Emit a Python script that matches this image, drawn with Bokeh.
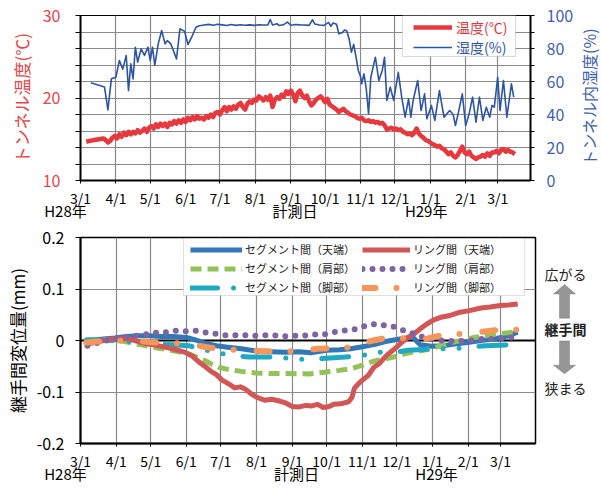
import math
from bokeh.plotting import figure
from bokeh.models import (Range1d, LinearAxis, FixedTicker, Legend, LegendItem, Label,
                          BoxAnnotation, PolyAnnotation, Span)
from bokeh.layouts import column, row
from bokeh.embed import file_html
from bokeh.resources import INLINE

JP = "Noto Sans CJK JP"

# ---------------- data ----------------
month_days = [0, 31, 61, 92, 122, 153, 184, 214, 245, 275, 306, 337, 365]
month_labels = ["3/1", "4/1", "5/1", "6/1", "7/1", "8/1", "9/1", "10/1", "11/1", "12/1", "1/1", "2/1", "3/1"]

temp_days = [5, 8, 12, 16, 20] + list(range(22, 381, 2))
temp_vals = [14.7, 14.8, 14.9, 15.0, 15.1,
             14.9, 14.6, 14.8, 15.2, 15.4, 15.1, 15.6, 15.3, 15.8, 15.5,
             15.9, 15.6, 15.9, 15.7, 16.1, 15.8, 16.0, 16.3, 15.9, 16.4,
             16.6, 16.3, 16.8, 16.5, 16.9, 16.6, 16.9, 16.5, 17.0, 16.8,
             17.2, 16.9, 17.3, 17.0, 17.4, 17.1, 17.6, 17.3, 17.7, 17.4,
             17.8, 17.5, 17.6, 17.4, 17.8, 17.6, 18.0, 17.7, 18.2, 18.3,
             18.0, 18.5, 18.9, 18.4, 18.9, 18.6, 19.0, 18.7, 19.2, 19.4,
             18.9, 18.6, 19.3, 19.6, 19.4, 19.8, 19.7, 20.2, 20.0, 19.7,
             20.1, 19.8, 20.3, 18.9, 19.8, 20.1, 19.9, 20.4, 20.2, 20.8,
             20.5, 20.9, 20.4, 19.6, 20.6, 20.9, 20.3, 20.0, 20.3, 19.6,
             19.1, 19.4, 19.8, 20.0, 20.2, 19.9, 19.5, 19.9, 19.2, 19.0,
             18.8, 18.6, 18.3, 18.5, 18.7, 18.4, 18.2, 18.0, 17.9, 17.8,
             17.6, 17.5, 17.6, 17.3, 17.2, 17.3, 17.1, 17.2, 17.0, 17.1,
             16.9, 17.0, 16.7, 16.2, 16.3, 16.4, 16.2, 16.3, 16.1, 16.2,
             15.9, 15.8, 15.6, 15.7, 15.5, 15.8, 16.3, 15.7, 15.4, 15.2,
             14.9, 14.8, 14.6, 14.4, 14.3, 14.1, 14.2, 13.9, 13.8, 13.5,
             13.2, 13.4, 13.0, 12.8, 13.1, 13.6, 14.1, 13.4, 13.2, 13.5,
             13.0, 12.8, 12.6, 12.8, 12.9, 13.1, 12.9, 13.3, 13.0, 13.4,
             13.4, 13.6, 13.3, 13.7, 13.8, 13.5, 13.7, 13.5, 13.4, 13.2]

hum_days = [9, 21, 24, 27, 31, 34, 37, 40, 42, 44,
            46, 48, 50, 53, 56, 59, 61, 63, 65, 68,
            71, 74, 76, 79, 84, 87, 91, 94, 98, 101,
            104, 108, 112, 116, 120, 124, 128, 132, 136, 140,
            144, 148, 152, 156, 160, 164, 166, 168, 172, 174,
            178, 181, 184, 188, 192, 196, 200, 203, 205, 209,
            213, 217, 219, 221, 224, 226, 229, 231, 233, 235,
            237, 239, 241, 243, 245, 246, 248, 250, 252, 254,
            256, 258, 261, 264, 266, 268, 271, 274, 278, 281,
            284, 287, 289, 291, 295, 298, 301, 303, 307, 310,
            314, 318, 323, 326, 328, 331, 334, 337, 340, 343,
            346, 349, 352, 355, 358, 360, 362, 365, 367, 370,
            373, 377, 379]
hum_vals = [59.2, 56.6, 42.8, 61.6, 62.6, 72.7, 67.5, 75.8, 54.5, 70.7,
            61.6, 80.8, 71.7, 79.8, 75.8, 80.8, 72.7, 80.8, 69.7, 82.8,
            90.9, 82.8, 84.8, 82.8, 73.7, 91.9, 90.5, 82.4, 88.0, 92.9,
            93.8, 94.2, 94.6, 94.1, 94.7, 94.3, 93.9, 94.5, 94.0, 94.4,
            94.1, 94.3, 94.0, 94.4, 94.2, 94.3, 97.6, 94.2, 95.0, 93.9,
            94.6, 96.0, 94.1, 94.5, 94.3, 94.2, 94.0, 97.4, 94.8, 94.2,
            94.0, 95.8, 93.5, 95.5, 94.7, 88.9, 89.5, 91.2, 90.6, 85.8,
            77.8, 82.5, 75.0, 66.7, 63.0, 58.6, 64.6, 55.6, 40.4, 62.6,
            68.7, 74.7, 60.6, 66.7, 74.7, 48.5, 56.6, 48.5, 65.6, 50.5,
            38.4, 49.5, 38.4, 48.5, 60.6, 42.4, 52.5, 37.4, 45.5, 36.4,
            54.5, 38.4, 42.4, 40.0, 33.3, 42.4, 52.5, 33.3, 40.4, 50.5,
            35.4, 50.5, 36.4, 44.4, 38.4, 45.5, 44.4, 62.6, 42.4, 60.6,
            38.4, 58.6, 50.5]

seg_top_days = [5, 12, 20, 30, 40, 50, 60, 70, 80, 92, 100, 108, 118, 128, 140, 154, 165, 178, 190,
                200, 214, 225, 235, 245, 255, 265, 275, 283, 289, 295, 305, 315, 325, 336, 348, 359, 370, 380]
seg_top_vals = [0.000, 0.001, 0.003, 0.005, 0.008, 0.009, 0.009, 0.008, 0.008, 0.006, 0.001, -0.005,
                -0.010, -0.013, -0.016, -0.021, -0.022, -0.023, -0.022, -0.024, -0.019, -0.018, -0.016,
                -0.012, -0.008, -0.002, 0.002, 0.005, 0.006, -0.008, -0.011, -0.010, -0.007, -0.004,
                0.000, 0.003, 0.008, 0.016]

seg_sh_days = [5, 15, 30, 45, 56, 68, 79, 94, 101, 108, 114, 120, 128, 140, 152, 165, 180, 198, 214,
               225, 235, 245, 255, 265, 272, 280, 288, 298, 307, 316, 324, 333, 342, 352, 362, 372, 380]
seg_sh_vals = [0.001, 0.002, 0.001, -0.005, -0.010, -0.015, -0.019, -0.026, -0.032, -0.039, -0.046,
               -0.052, -0.056, -0.060, -0.063, -0.064, -0.064, -0.065, -0.061, -0.058, -0.055, -0.048,
               -0.040, -0.036, -0.032, -0.027, -0.023, -0.019, -0.014, -0.009, -0.003, 0.001, 0.006,
               0.009, 0.013, 0.015, 0.017]

seg_ft_days = [5, 15, 30, 50, 76, 94, 118, 133, 146, 170, 184, 197, 210, 230, 245, 259, 272, 285,
               310, 324, 337, 352, 378]
seg_ft_vals = [0.001, 0.001, 0.000, -0.003, -0.008, -0.010, -0.024, -0.029, -0.032, -0.032, -0.035,
               -0.037, -0.035, -0.032, -0.029, -0.023, -0.023, -0.019, -0.016, -0.016, -0.013,
               -0.010, -0.008]

ring_top_days = [5, 10, 20, 30, 42, 56, 65, 74, 83, 91, 97, 103, 108, 114, 118, 123, 128, 134, 139,
                 143, 148, 153, 160, 166, 172, 178, 184, 190, 196, 201, 206, 211, 216, 220, 226, 233,
                 236, 238, 241, 245, 250, 255, 260, 266, 272, 278, 284, 290, 296, 301, 307, 313, 320,
                 330, 338, 348, 356, 365, 372, 380]
ring_top_vals = [-0.008, -0.005, 0.000, 0.004, 0.003, -0.006, -0.009, -0.013, -0.018, -0.023, -0.030,
                 -0.042, -0.050, -0.061, -0.066, -0.077, -0.083, -0.092, -0.090, -0.094, -0.103,
                 -0.110, -0.116, -0.114, -0.117, -0.121, -0.128, -0.129, -0.126, -0.127, -0.124,
                 -0.130, -0.128, -0.124, -0.123, -0.119, -0.110, -0.093, -0.085, -0.077, -0.068,
                 -0.052, -0.044, -0.029, -0.018, -0.006, 0.005, 0.013, 0.024, 0.032, 0.040, 0.045,
                 0.048, 0.055, 0.058, 0.063, 0.065, 0.068, 0.069, 0.071]

ring_sh_days = [6, 18, 27, 36, 45, 53, 63, 72, 81, 90, 100, 108, 117, 126, 134, 143, 152, 160, 169,
                177, 186, 193, 201, 210, 220, 229, 239, 248, 256, 265, 274, 281, 290, 298, 306, 314,
                323, 332, 340, 349, 358, 366, 375]
ring_sh_vals = [-0.010, -0.003, 0.003, 0.006, 0.009, 0.010, 0.015, 0.015, 0.019, 0.018, 0.019, 0.016,
                0.013, 0.010, 0.010, 0.010, 0.009, 0.010, 0.010, 0.008, 0.009, 0.009, 0.012, 0.011,
                0.016, 0.019, 0.022, 0.029, 0.032, 0.029, 0.026, 0.019, 0.013, 0.006, 0.003, 0.000,
                -0.001, -0.001, 0.000, 0.003, 0.003, 0.004, 0.006]

ring_ft_days = [5, 15, 30, 42, 60, 75, 93, 110, 124, 142, 159, 172, 188, 206, 220, 235, 252, 268, 284,
                300, 317, 332, 349, 364, 380]
ring_ft_vals = [-0.004, -0.002, -0.001, 0.001, -0.003, -0.005, -0.006, -0.013, -0.017, -0.019, -0.021,
                -0.021, -0.021, -0.016, -0.015, -0.013, -0.001, 0.006, 0.004, 0.003, 0.012, 0.013,
                0.017, 0.021, 0.021]

RED = "#E8383D"
BLUE = "#2E54A6"
AX_RED = "#E8454A"
AX_BLUE = "#3D62AE"
GRID = "#8A8A8A"

DAY_PX = 420.0 / 365.0          # pixels per day on both charts
FRAME_L = 80                     # page x of frame left


def style_axis(ax, size, color, standoff, tick_out):
    ax.major_label_text_font = JP
    ax.major_label_text_font_size = size
    ax.major_label_text_color = color
    ax.major_label_standoff = standoff
    ax.major_tick_in = 0
    ax.major_tick_out = tick_out
    ax.minor_tick_in = 0
    ax.minor_tick_out = 0
    ax.axis_line_width = 2
    ax.axis_line_color = "black"


def text_axis(p, ticks, labels):
    ax = LinearAxis(ticker=FixedTicker(ticks=ticks),
                    major_label_overrides={t: l for t, l in zip(ticks, labels)})
    style_axis(ax, "15px", "black", -11, 0)
    ax.axis_line_alpha = 0
    ax.major_tick_line_alpha = 0
    p.add_layout(ax, "below")


def tx(px):
    return round((px - FRAME_L) / DAY_PX, 1)


def blank_panel(w, h, xr, yr):
    q = figure(width=w, height=h, x_range=xr, y_range=yr, x_axis_type=None, y_axis_type=None,
               output_backend="svg", toolbar_location=None,
               min_border_left=0, min_border_right=0, min_border_top=0, min_border_bottom=0)
    q.outline_line_color = None
    q.background_fill_color = "white"
    q.border_fill_color = "white"
    return q


# ---------------- top chart ----------------
T_TOP, T_BOT = 15, 180
p1 = figure(width=576, height=225, x_range=Range1d(0, 453 / DAY_PX), y_range=Range1d(10, 30),
            output_backend="svg", toolbar_location=None,
            min_border_left=80, min_border_right=43, min_border_top=15, min_border_bottom=45)
p1.extra_y_ranges = {"hum": Range1d(0, 100)}
p1.outline_line_color = "black"
p1.outline_line_width = 1
p1.background_fill_color = "white"
p1.border_fill_color = "white"


def ty(py):
    return 10 + (T_BOT - py) * 20.0 / (T_BOT - T_TOP)


p1.xgrid.ticker = FixedTicker(ticks=month_days)
p1.ygrid.ticker = FixedTicker(ticks=list(range(10, 31, 2)))
for g in (p1.xgrid[0], p1.ygrid[0]):
    g.grid_line_color = GRID
    g.grid_line_width = 1.2

xa = p1.xaxis[0]
xa.ticker = FixedTicker(ticks=month_days)
xa.major_label_overrides = {d: l for d, l in zip(month_days, month_labels)}
style_axis(xa, "14px", "black", 4, 3)

ya = p1.yaxis[0]
ya.ticker = FixedTicker(ticks=list(range(10, 31, 2)))
ya.major_label_overrides = {v: (str(v) if v % 10 == 0 else "") for v in range(10, 31, 2)}
style_axis(ya, "16px", AX_RED, 15, 5)
ya.axis_label = "トンネル温度(℃)"
ya.axis_label_text_font = JP
ya.axis_label_text_font_size = "17px"
ya.axis_label_text_font_style = "normal"
ya.axis_label_text_color = AX_RED
ya.axis_label_standoff = 6

ra = LinearAxis(y_range_name="hum", ticker=FixedTicker(ticks=list(range(0, 101, 10))))
ra.major_label_overrides = {v: (str(v) if v % 20 == 0 else "") for v in range(0, 101, 10)}
style_axis(ra, "16px", AX_BLUE, 12, 4)
p1.add_layout(ra, "right")

text_axis(p1, [0, tx(296), tx(428)], ["H28年\u3000\u3000", "計測日", "H29年"])

r_temp = p1.line(temp_days, temp_vals, line_color=RED, line_width=4.5, line_join="round")
r_hum = p1.line(hum_days, hum_vals, y_range_name="hum", line_color=BLUE, line_width=1.6, line_join="round")

p1.add_layout(BoxAnnotation(left=tx(404), right=tx(518), top=ty(15), bottom=ty(56),
                            fill_color="white", fill_alpha=1, line_color="#7F7F7F", line_width=1))
for item, rend, col, cy in (("温度(℃)", r_temp, RED, 27), ("湿度(%)", r_hum, BLUE, 47)):
    lg = Legend(items=[LegendItem(label=item, renderers=[rend])],
                location=(413 - 3 - FRAME_L, T_BOT - (cy + 12 + 3)),
                padding=3, margin=0, glyph_width=39, glyph_height=24, label_height=24,
                label_standoff=4, spacing=0, border_line_alpha=0, background_fill_alpha=0,
                label_text_font=JP, label_text_font_size="14px", label_text_color=col)
    p1.add_layout(lg)

# right-hand title of the humidity axis
p4 = blank_panel(24, 225, Range1d(576, 600), Range1d(0, 225))
p4.add_layout(Label(x=588, y=225 - 111, text="トンネル内湿度(%)", angle=math.pi / 2,
                    text_align="center", text_baseline="middle",
                    text_font=JP, text_font_size="16px", text_color=AX_BLUE))

# ---------------- bottom chart ----------------
B_TOP, B_BOT = 237, 443
p2 = figure(width=537, height=263, x_range=Range1d(0, 455 / DAY_PX), y_range=Range1d(-0.2, 0.2),
            output_backend="svg", toolbar_location=None,
            min_border_left=80, min_border_right=2, min_border_top=12, min_border_bottom=45)
p2.outline_line_color = "black"
p2.outline_line_width = 1.5
p2.background_fill_color = "white"
p2.border_fill_color = "white"


def by(py):
    return 0.2 - (py - B_TOP) * 0.4 / (B_BOT - B_TOP)


bticks = [-0.2, -0.1, 0, 0.1, 0.2]
p2.xgrid.ticker = FixedTicker(ticks=month_days)
p2.ygrid.ticker = FixedTicker(ticks=bticks)
for g in (p2.xgrid[0], p2.ygrid[0]):
    g.grid_line_color = GRID
    g.grid_line_width = 1.2

xb = p2.xaxis[0]
xb.ticker = FixedTicker(ticks=month_days)
xb.major_label_overrides = {d: l for d, l in zip(month_days, month_labels)}
style_axis(xb, "14px", "black", 4, 3)

yb = p2.yaxis[0]
yb.ticker = FixedTicker(ticks=bticks)
yb.major_label_overrides = {-0.2: "-0.2", -0.1: "-0.1", 0: "0", 0.1: "0.1", 0.2: "0.2"}
style_axis(yb, "16px", "black", 11, 5)
yb.axis_label = "継手間変位量(mm)"
yb.axis_label_text_font = JP
yb.axis_label_text_font_size = "17px"
yb.axis_label_text_font_style = "normal"
yb.axis_label_text_color = "black"
yb.axis_label_standoff = 4

text_axis(p2, [0, tx(296), tx(436)], ["H28年\u3000\u3000", "計測日", "H29年"])

p2.add_layout(Span(location=0, dimension="width", line_color="black", line_width=2, level="underlay"))

C_BLUE = "#3278B8"
C_GREEN = "#93C25A"
C_CYAN = "#1FA9C4"
C_RED = "#D35656"
C_PURPLE = "#8064A2"
C_ORANGE = "#F7965A"

r1 = p2.line(seg_top_days, seg_top_vals, line_color=C_BLUE, line_width=5, line_join="round")
r2 = p2.line(seg_sh_days, seg_sh_vals, line_color=C_GREEN, line_width=5, line_dash="11 6")
r3 = p2.line(seg_ft_days, seg_ft_vals, line_color=C_CYAN, line_width=5, line_cap="round",
             line_dash="27 16 0 16 0 20")
r4 = p2.line(ring_top_days, ring_top_vals, line_color=C_RED, line_width=5, line_join="round")
r5 = p2.line(ring_sh_days, ring_sh_vals, line_color=C_PURPLE, line_width=6, line_cap="round",
             line_dash="0 10")
r6 = p2.line(ring_ft_days, ring_ft_vals, line_color=C_ORANGE, line_width=6, line_cap="round",
             line_dash="13 21 0 23")

p2.add_layout(BoxAnnotation(left=tx(183), right=tx(524), top=by(238), bottom=by(295),
                            fill_color="white", fill_alpha=1, line_color="#9A9A9A", line_width=1))
for gx, gw, items in ((190, 52, [("セグメント間（天端）", r1), ("セグメント間（肩部）", r2), ("セグメント間（脚部）", r3)]),
                      (362, 48, [("リング間（天端）", r4), ("リング間（肩部）", r5), ("リング間（脚部）", r6)])):
    lg = Legend(items=[LegendItem(label=t, renderers=[r]) for t, r in items],
                location=(gx - 3 - FRAME_L, 143.5),
                padding=3, margin=0, glyph_width=gw, glyph_height=19, label_height=19,
                label_standoff=3, spacing=0, border_line_alpha=0, background_fill_alpha=0,
                label_text_font=JP, label_text_font_size="11px", label_text_color="#222222")
    p2.add_layout(lg)

# ---------------- side panel with the direction notes ----------------
p3 = blank_panel(63, 263, Range1d(537, 600), Range1d(488, 225))
for txt, py, style in (("広がる", 272, "normal"), ("継手間", 342, "bold"), ("狭まる", 417, "normal")):
    p3.add_layout(Label(x=565, y=py, text=txt, text_align="center", text_baseline="middle",
                        text_font=JP, text_font_size="14px", text_font_style=style, text_color="#222222"))

up_px = [(564, 285), (575, 297), (569, 297), (569, 328), (559, 328), (559, 297), (553, 297)]
dn_px = [(559, 357), (569, 357), (569, 388), (575, 388), (564, 399), (553, 388), (559, 388)]
for pts in (up_px, dn_px):
    p3.add_layout(PolyAnnotation(xs=[a for a, b in pts], ys=[b for a, b in pts],
                                 fill_color="#969696", fill_alpha=1, line_color="#505050", line_width=1))

layout = column(row(p1, p4, spacing=0), row(p2, p3, spacing=0), spacing=0)
open("out.html", "w").write(file_html(layout, INLINE))
